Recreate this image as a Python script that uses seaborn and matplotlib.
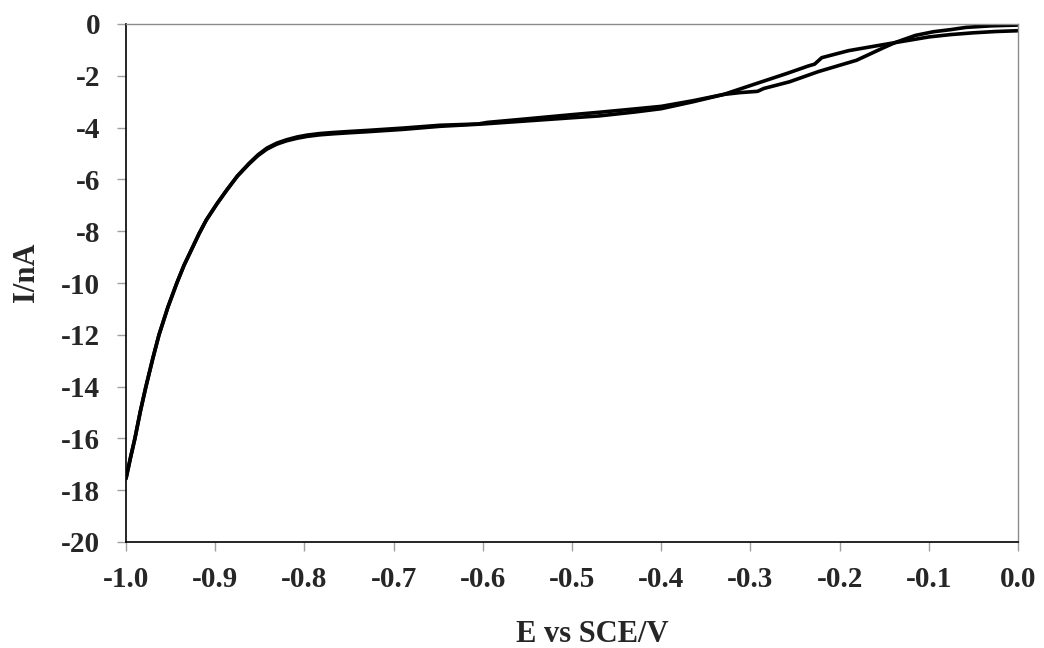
import matplotlib
matplotlib.use("Agg")
import matplotlib.pyplot as plt
import numpy as np
import pandas as pd
import seaborn as sns

# Potential (V vs SCE) and current (nA) for the two branches of the sweep
E_return = [-1.000, -0.995, -0.990, -0.984, -0.978, -0.970, -0.963, -0.953, -0.943,
            -0.935, -0.926, -0.918, -0.910, -0.898, -0.887, -0.875, -0.862, -0.852,
            -0.842, -0.831, -0.820, -0.808, -0.797, -0.783, -0.768, -0.750, -0.730,
            -0.690, -0.648, -0.605, -0.595, -0.550, -0.500, -0.470, -0.430, -0.400,
            -0.364, -0.330, -0.289, -0.260, -0.235, -0.228, -0.220, -0.190, -0.165,
            -0.138, -0.100, -0.076, -0.050, -0.025, 0.000]
I_return = [-17.55, -16.75, -16.0, -14.97, -14.05, -12.92, -12.0, -10.93, -10.0,
            -9.32, -8.67, -8.09, -7.57, -6.94, -6.41, -5.86, -5.38, -5.05,
            -4.79, -4.60, -4.47, -4.36, -4.29, -4.23, -4.19, -4.15, -4.11,
            -4.02, -3.91, -3.86, -3.80, -3.66, -3.50, -3.41, -3.28, -3.18,
            -2.96, -2.72, -2.25, -1.92, -1.62, -1.55, -1.30, -1.03, -0.88,
            -0.72, -0.50, -0.41, -0.34, -0.29, -0.26]

E_forward = [-1.000, -0.995, -0.990, -0.984, -0.978, -0.970, -0.963, -0.953, -0.943,
             -0.935, -0.926, -0.918, -0.910, -0.898, -0.887, -0.875, -0.862, -0.852,
             -0.842, -0.831, -0.820, -0.808, -0.797, -0.783, -0.768, -0.750, -0.730,
             -0.690, -0.648, -0.600, -0.550, -0.500, -0.470, -0.430, -0.400, -0.364,
             -0.330, -0.312, -0.292, -0.285, -0.256, -0.224, -0.181, -0.151, -0.138,
             -0.115, -0.095, -0.076, -0.058, -0.030, 0.000]
I_forward = [-17.55, -16.75, -16.0, -14.97, -14.05, -12.92, -12.0, -10.93, -10.0,
             -9.32, -8.67, -8.09, -7.57, -6.94, -6.41, -5.87, -5.40, -5.08,
             -4.83, -4.64, -4.51, -4.41, -4.34, -4.28, -4.24, -4.20, -4.16,
             -4.07, -3.95, -3.86, -3.74, -3.62, -3.55, -3.40, -3.27, -3.00,
             -2.72, -2.65, -2.60, -2.49, -2.23, -1.84, -1.40, -0.92, -0.72,
             -0.44, -0.30, -0.22, -0.13, -0.07, -0.04]

x_ticks = [-1.0, -0.9, -0.8, -0.7, -0.6, -0.5, -0.4, -0.3, -0.2, -0.1, 0.0]
y_ticks = [0, -2, -4, -6, -8, -10, -12, -14, -16, -18, -20]

sns.set_theme(style="white")
plt.rcParams["font.family"] = ["Liberation Serif", "DejaVu Serif"]
plt.rcParams["font.weight"] = "bold"

df = pd.concat([
    pd.DataFrame({"E": E_forward, "I": I_forward, "sweep": "forward"}),
    pd.DataFrame({"E": E_return, "I": I_return, "sweep": "return"}),
], ignore_index=True)

fig = plt.figure(figsize=(10.44, 6.48), dpi=100)
ax = fig.add_axes([126 / 1044, 1 - 542 / 648, 892 / 1044, 518 / 648])

sns.lineplot(data=df, x="E", y="I", hue="sweep", palette=["black", "black"],
             sort=False, estimator=None, linewidth=2.6, legend=False, ax=ax)
for line in ax.get_lines():
    line.set_solid_joinstyle("round")
    line.set_solid_capstyle("round")

ax.set_xlim(-1.0, 0.0)
ax.set_ylim(-20, 0)
ax.set_xticks(x_ticks)
ax.set_xticklabels([f"{v:.1f}" for v in x_ticks])
ax.set_yticks(y_ticks)
ax.set_yticklabels([f"{v:d}" for v in y_ticks])

for side in ("top", "right"):
    ax.spines[side].set_color("#8c8c8c")
    ax.spines[side].set_linewidth(1.0)
for side in ("left", "bottom"):
    ax.spines[side].set_color("black")
    ax.spines[side].set_linewidth(1.2)

ax.tick_params(axis="both", which="major", direction="out", length=6.5, width=1.0,
               color="#a0a0a0", labelsize=21, pad=11)
ax.tick_params(axis="y", pad=12)
ax.tick_params(left=True, bottom=True)
for lbl in ax.get_xticklabels() + ax.get_yticklabels():
    lbl.set_fontweight("bold")

ax.set_xlabel("E vs SCE/V", fontsize=22, fontweight="bold")
ax.set_ylabel("I/nA", fontsize=22, fontweight="bold")
ax.xaxis.set_label_coords(0.523, -0.15)
ax.yaxis.set_label_coords(-0.095, 0.521)
ax.grid(False)

fig.savefig("out.png", dpi=100)
